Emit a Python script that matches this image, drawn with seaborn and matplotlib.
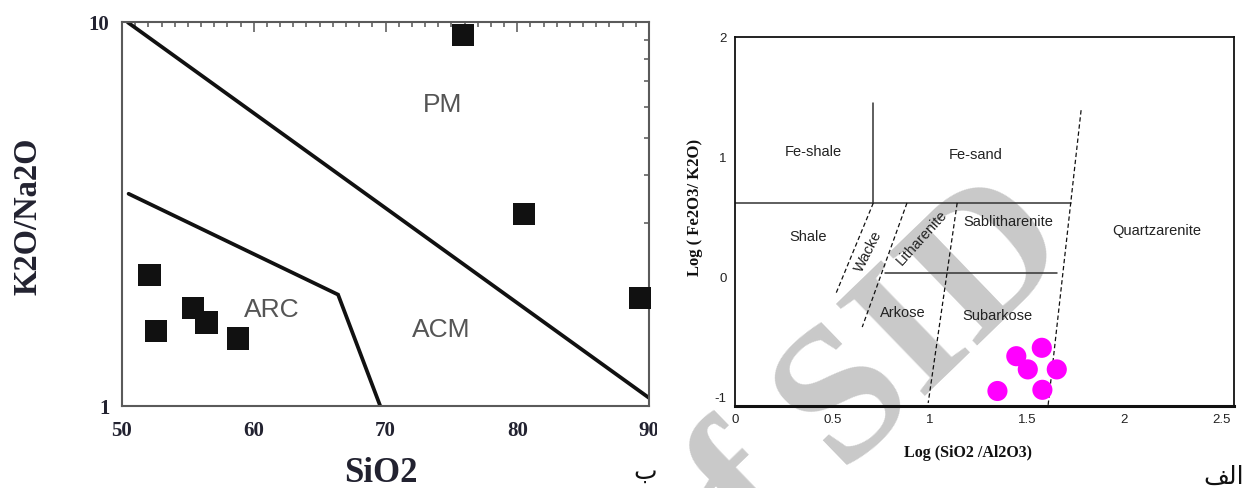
import matplotlib
matplotlib.use("Agg")
import matplotlib.pyplot as plt
from matplotlib.patches import Rectangle
from matplotlib.ticker import FixedLocator, NullFormatter, MultipleLocator
import seaborn as sns

# ---- K2O/Na2O vs SiO2 tectonic setting diagram ----
sio2 = [52.1, 52.6, 55.4, 56.4, 58.8, 75.9, 80.5, 89.3]
k2o_na2o = [2.19, 1.57, 1.80, 1.65, 1.50, 9.25, 3.16, 1.91]
pm_acm_x = [50.4, 90.0]
pm_acm_y = [10.0, 1.05]
acm_arc_x = [50.5, 66.4, 69.6]
acm_arc_y = [3.57, 1.95, 1.0]
setting_names = ["PM", "ACM", "ARC"]
setting_x = [74.3, 74.2, 61.4]
setting_y = [6.08, 1.58, 1.78]
sio2_ticks = [50, 60, 70, 80, 90]
ratio_ticks = [1, 10]

# ---- Herron classification: log(SiO2/Al2O3) vs log(Fe2O3/K2O) ----
log_si_al = [1.446, 1.577, 1.505, 1.654, 1.349, 1.580]
log_fe_k = [-0.66, -0.59, -0.77, -0.77, -0.95, -0.94]

fe_line_x, fe_line_y = [0.0, 1.727], [0.617, 0.617]
fe_split_x, fe_split_y = [0.711, 0.711], [0.617, 1.45]
arkose_line_x, arkose_line_y = [0.771, 1.655], [0.033, 0.033]
shale_wacke_x, shale_wacke_y = [0.711, 0.520], [0.617, -0.133]
wacke_lith_x, wacke_lith_y = [0.884, 0.654], [0.617, -0.417]
lith_sub_x, lith_sub_y = [1.142, 0.993], [0.617, -1.05]
sub_quartz_x, sub_quartz_y = [1.779, 1.609], [1.39, -1.075]

class_names = ["Fe-shale", "Fe-sand", "Shale", "Wacke", "Litharenite",
               "Sablitharenite", "Arkose", "Subarkose", "Quartzarenite"]
class_x = [0.403, 1.239, 0.375, 0.685, 0.962, 1.405, 0.861, 1.348, 2.170]
class_y = [1.04, 1.02, 0.33, 0.21, 0.33, 0.46, -0.30, -0.325, 0.383]
class_rot = [0, 0, 0, 63, 48, 0, 0, 0, 0]
herron_xticks = [0, 0.5, 1, 1.5, 2, 2.5]
herron_xlabels = ["0", "0.5", "1", "1.5", "2", "2.5"]
herron_yticks = [-1, 0, 1, 2]
herron_ylabels = ["-1", "0", "1", "2"]

sns.set_style("white")
plt.rcParams["font.family"] = ["Liberation Sans", "DejaVu Sans"]

W, H = 1243, 488
fig = plt.figure(figsize=(W / 100, H / 100), dpi=100)
fig.patch.set_facecolor("white")

serif = "Liberation Serif"

# ================= left panel =================
ax1 = fig.add_axes([122 / W, 1 - 406 / H, (649 - 122) / W, (406 - 22) / H])
ax1.set_facecolor("none")
ax1.set_yscale("log")
ax1.set_xlim(50, 90)
ax1.set_ylim(1, 10)

ax1.plot(pm_acm_x, pm_acm_y, color="#111111", lw=2.7, solid_capstyle="butt")
ax1.plot(acm_arc_x, acm_arc_y, color="#111111", lw=2.7, solid_joinstyle="miter")
sns.scatterplot(x=sio2, y=k2o_na2o, marker="s", s=260, color="#111111",
                edgecolor="none", ax=ax1, clip_on=False, zorder=4)
for name, x, y in zip(setting_names, setting_x, setting_y):
    ax1.text(x, y, name, fontsize=19, color="#555555", ha="center", va="center")

ax1.xaxis.set_major_locator(FixedLocator(sio2_ticks))
ax1.xaxis.set_minor_locator(MultipleLocator(1))
ax1.yaxis.set_major_locator(FixedLocator(ratio_ticks))
ax1.yaxis.set_minor_locator(FixedLocator([2, 3, 4, 5, 6, 7, 8, 9]))
ax1.yaxis.set_minor_formatter(NullFormatter())
ax1.set_xticklabels([str(t) for t in sio2_ticks])
ax1.set_yticklabels([str(t) for t in ratio_ticks])
ax1.tick_params(which="both", direction="in", top=True, right=True,
                color="#555555", width=1.1)
ax1.tick_params(which="major", length=7)
ax1.tick_params(which="minor", length=3.5)
ax1.tick_params(axis="x", which="major", pad=11)
ax1.tick_params(axis="y", which="major", pad=9)
for lab in ax1.get_xticklabels() + ax1.get_yticklabels():
    lab.set_fontfamily(serif)
    lab.set_fontweight("bold")
    lab.set_fontsize(15)
    lab.set_color("#222230")
for sp in ax1.spines.values():
    sp.set_color("#5a5a5a")
    sp.set_linewidth(1.5)

ax1.set_xlabel("SiO2", fontfamily=serif, fontweight="bold", fontsize=25,
               color="#222230")
ax1.set_ylabel("K2O/Na2O", fontfamily=serif, fontweight="bold", fontsize=23.5,
               color="#222230")
ax1.xaxis.set_label_coords((381 - 122) / 527, (406 - 473) / 384)
ax1.yaxis.set_label_coords((28 - 122) / 527, (406 - 216) / 384)
ax1.xaxis.label.set_va("center")
ax1.yaxis.label.set_va("center")

# ================= right panel =================
ax2 = fig.add_axes([735 / W, 1 - 406 / H, (1234 - 735) / W, (406 - 37) / H])
ax2.set_facecolor("none")
ax2.set_xlim(0, 2.565)
ax2.set_ylim(-1.075, 2.0)

solid_kw = dict(color="#333333", lw=1.1)
dash_kw = dict(color="#111111", lw=0.9, dashes=(3.5, 2.2))
ax2.plot(fe_line_x, fe_line_y, **solid_kw)
ax2.plot(fe_split_x, fe_split_y, **solid_kw)
ax2.plot(arkose_line_x, arkose_line_y, **solid_kw)
for xs, ys in [(shale_wacke_x, shale_wacke_y), (wacke_lith_x, wacke_lith_y),
               (lith_sub_x, lith_sub_y), (sub_quartz_x, sub_quartz_y)]:
    ax2.plot(xs, ys, **dash_kw)

sns.scatterplot(x=log_si_al, y=log_fe_k, s=210, color="#ff00ff",
                edgecolor="none", ax=ax2, zorder=4)

for name, x, y, r in zip(class_names, class_x, class_y, class_rot):
    ax2.text(x, y, name, fontsize=10.5, color="#222222", ha="center",
             va="center", rotation=r, rotation_mode="anchor")

ax2.set_xticks(herron_xticks, labels=herron_xlabels)
ax2.set_yticks(herron_yticks, labels=herron_ylabels)
ax2.yaxis.set_minor_locator(FixedLocator([-0.5, 0.5, 1.5]))
ax2.tick_params(which="both", direction="in", color="#222222", width=1.1,
                labelsize=9.5, labelcolor="#222222")
ax2.tick_params(axis="x", length=6, pad=6)
ax2.tick_params(axis="y", which="both", length=5.5, pad=6)
for i in (0, 5):
    ax2.xaxis.get_major_ticks()[i].tick1line.set_visible(False)
for name, sp in ax2.spines.items():
    sp.set_color("#111111")
    sp.set_linewidth(2.2 if name == "bottom" else 1.3)

ax2.set_xlabel("Log (SiO2 /Al2O3)", fontfamily=serif, fontweight="bold",
               fontsize=11.5, color="#111111")
ax2.set_ylabel("Log ( Fe2O3/ K2O)", fontfamily=serif, fontweight="bold",
               fontsize=12, color="#111111")
ax2.xaxis.set_label_coords((968 - 735) / 499, (406 - 453) / 369)
ax2.yaxis.set_label_coords((695 - 735) / 499, (406 - 207) / 369)
ax2.xaxis.label.set_va("center")
ax2.yaxis.label.set_va("center")

# the left figure is cropped just after its last tick label
fig.add_artist(Rectangle((657 / W, 1 - 445 / H), 28 / W, 30 / H,
                         transform=fig.transFigure, facecolor="white",
                         edgecolor="none", zorder=10))

# panel captions
fig.text(1224 / W, 1 - 477 / H, "\uFED2\uFEDF\uFE8D", fontsize=18,
         family="DejaVu Sans", ha="center", va="center", color="#111111")
fig.text(645 / W, 1 - 472 / H, "\u0628", fontsize=18,
         family="DejaVu Sans", ha="center", va="center", color="#111111")

# archive watermark behind the diagram
fig.text(852 / W, 1 - 402 / H, "of SID", fontsize=140, family=serif,
         fontweight="bold", color="#c9c9c9", rotation=44,
         rotation_mode="anchor", ha="center", va="center", zorder=-1)

fig.savefig("out.png", dpi=100, facecolor="white")
